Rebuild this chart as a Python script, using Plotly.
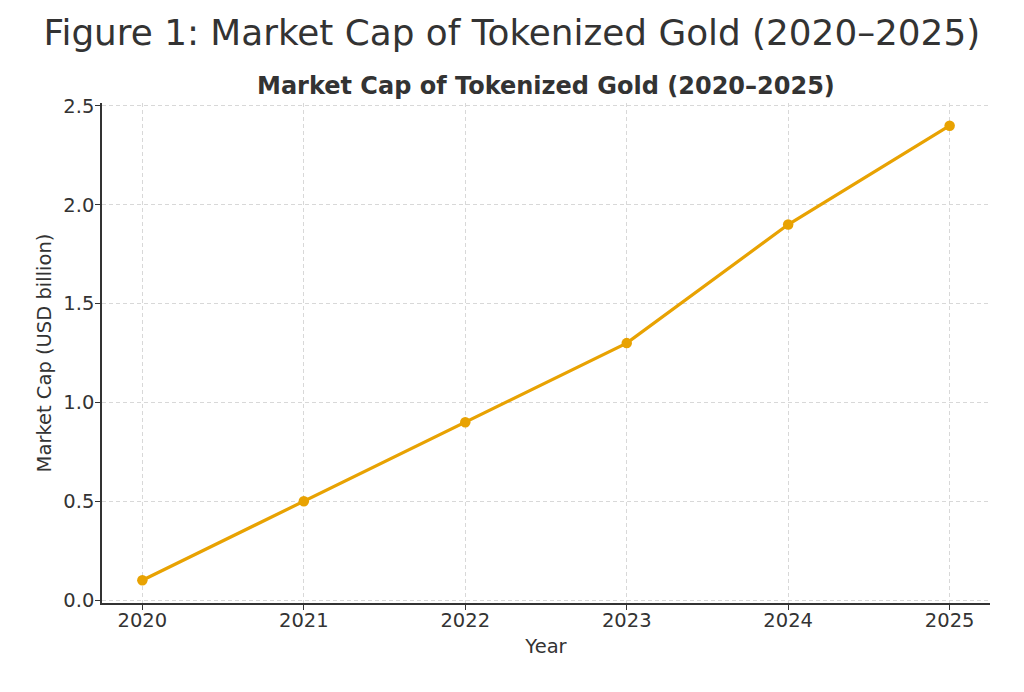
import plotly.graph_objects as go

years = [2020, 2021, 2022, 2023, 2024, 2025]
market_cap = [0.1, 0.5, 0.9, 1.3, 1.9, 2.4]
y_ticks = [0.0, 0.5, 1.0, 1.5, 2.0, 2.5]
y_tick_labels = ["0.0", "0.5", "1.0", "1.5", "2.0", "2.5"]

FONT = "DejaVu Sans"
TXT = "#333333"
GOLD = "#E8A202"

fig = go.Figure()
fig.add_trace(go.Scatter(
    x=years, y=market_cap, mode="lines+markers",
    line=dict(color=GOLD, width=3.2),
    marker=dict(color=GOLD, size=10.5),
    showlegend=False,
))

fig.update_layout(
    width=1024, height=692,
    paper_bgcolor="white", plot_bgcolor="white",
    margin=dict(l=94, r=42, t=95, b=97),
    font=dict(family=FONT, color=TXT, size=19.5),
    title=dict(text="Figure 1: Market Cap of Tokenized Gold (2020–2025)",
               x=0.492, xanchor="center", y=0.964, yanchor="middle",
               font=dict(size=35.8, color=TXT, family=FONT)),
    annotations=[dict(text="<b>Market Cap of Tokenized Gold (2020–2025)</b>",
                      xref="paper", yref="paper", x=0.5, y=1.0, yshift=17,
                      xanchor="center", yanchor="middle", showarrow=False,
                      font=dict(size=24, color=TXT, family=FONT))],
)

fig.update_xaxes(
    range=[2019.75, 2025.25], tickvals=years, ticktext=[str(y) for y in years],
    showgrid=True, gridcolor="#d8d8d8", griddash="4px,3px", gridwidth=1,
    showline=True, linecolor="#333333", linewidth=1.5,
    ticks="outside", ticklen=5, tickcolor="#333333", ticklabelstandoff=-6,
    zeroline=False,
    title=dict(text="Year", font=dict(size=19.5, color=TXT), standoff=8),
    tickfont=dict(size=19.5, color=TXT),
)
fig.update_yaxes(
    range=[-0.015, 2.515], tickvals=y_ticks, ticktext=y_tick_labels,
    showgrid=True, gridcolor="#d8d8d8", griddash="4px,3px", gridwidth=1,
    showline=True, linecolor="#333333", linewidth=1.5,
    ticks="outside", ticklen=5, tickcolor="#333333", ticklabelstandoff=-3,
    zeroline=False,
    title=dict(text="Market Cap (USD billion)", font=dict(size=19.5, color=TXT), standoff=7),
    tickfont=dict(size=19.5, color=TXT),
)

fig.write_html("out.html")
